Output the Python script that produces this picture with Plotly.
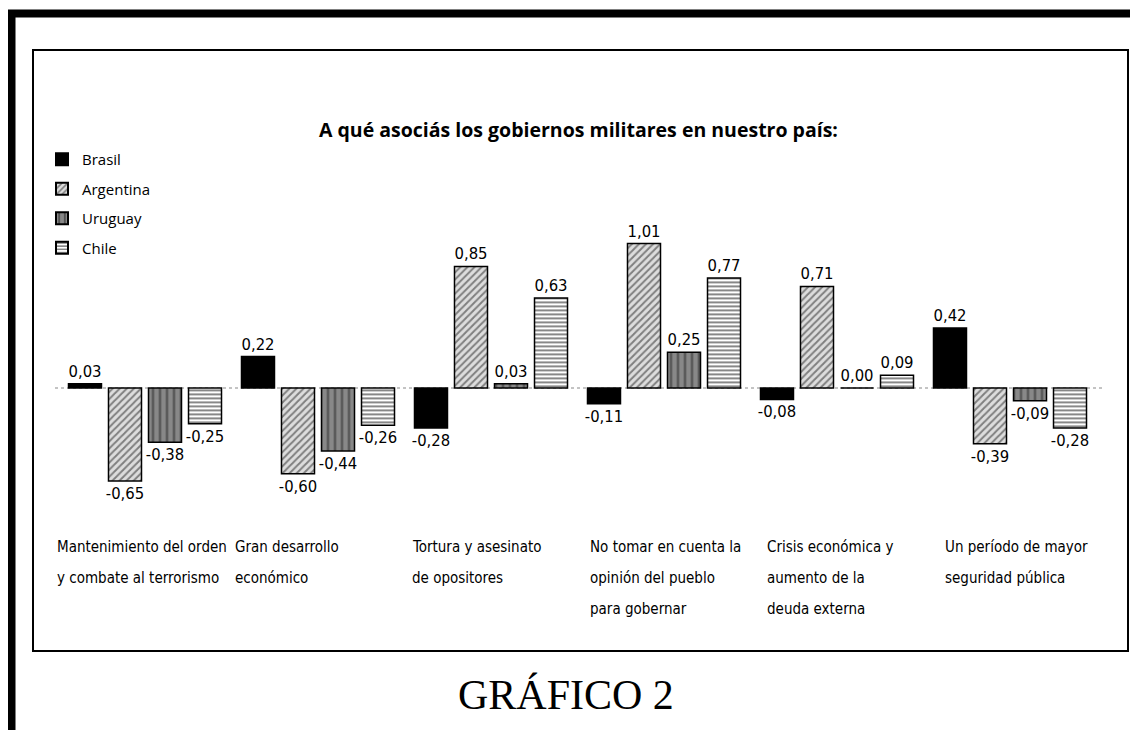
import plotly.graph_objects as go

categories = [
    "Mantenimiento del orden\ny combate al terrorismo",
    "Gran desarrollo\neconómico",
    "Tortura y asesinato\nde opositores",
    "No tomar en cuenta la\nopinión del pueblo\npara gobernar",
    "Crisis económica y\naumento de la\ndeuda externa",
    "Un período de mayor\nseguridad pública",
]
brasil = [0.03, 0.22, -0.28, -0.11, -0.08, 0.42]
argentina = [-0.65, -0.60, 0.85, 1.01, 0.71, -0.39]
uruguay = [-0.38, -0.44, 0.03, 0.25, 0.00, -0.09]
chile = [-0.25, -0.26, 0.63, 0.77, 0.09, -0.28]

series = [
    ("Brasil", brasil, dict(color="black", pattern=dict(shape=""))),
    ("Argentina", argentina, dict(color="white", pattern=dict(shape="/", fgcolor="#222", bgcolor="#dddddd", size=5, solidity=0.4))),
    ("Uruguay", uruguay, dict(color="white", pattern=dict(shape="|", fgcolor="#111", bgcolor="#888888", size=7, solidity=0.3))),
    ("Chile", chile, dict(color="white", pattern=dict(shape="-", fgcolor="#111", bgcolor="white", size=4, solidity=0.5))),
]

# page has an 8px body margin; figure sized to fit the window without scrollbars
OFF = 8
W, H = 1130, 722
def px(x):
    return (x - OFF) / W
def py(y):
    return 1 - (y - OFF) / H

x_idx = list(range(len(categories)))
val_font = dict(family="Liberation Sans Narrow, DejaVu Sans Condensed, sans-serif", size=16.5, color="black")
fig = go.Figure()
for name, vals, mk in series:
    fig.add_trace(go.Bar(
        name=name, x=x_idx, y=vals, legendgroup=name,
        marker=dict(line=dict(color="black", width=1.5), **mk),
        text=[f"{v:.2f}".replace(".", ",") for v in vals],
        textposition="outside", constraintext="none",
        textfont=val_font, cliponaxis=False,
    ))

shapes = [
    dict(type="line", xref="paper", yref="paper", x0=px(11.5), x1=px(11.5), y0=py(10), y1=py(745), line=dict(color="black", width=8)),
    dict(type="line", xref="paper", yref="paper", x0=px(7), x1=px(1145), y0=py(13.5), y1=py(13.5), line=dict(color="black", width=8)),
    dict(type="rect", xref="paper", yref="paper", x0=px(33), x1=px(1128), y0=py(50), y1=py(651), line=dict(color="black", width=2)),
    dict(type="line", xref="paper", yref="y", x0=px(55), x1=px(1105), y0=0, y1=0, line=dict(color="#888", width=1, dash="dot"), layer="below"),
]

annotations = [
    dict(text="<b>A qué asociás los gobiernos militares en nuestro país:</b>", xref="paper", yref="paper",
         x=px(578), y=py(130), xanchor="center", yanchor="middle", showarrow=False,
         font=dict(family="Open Sans, sans-serif", size=19.5, color="black")),
    dict(text="GRÁFICO 2", xref="paper", yref="paper", x=px(566), y=py(695), xanchor="center", yanchor="middle",
         showarrow=False, font=dict(family="Liberation Serif, serif", size=42, color="black")),
]
label_font = dict(family="Liberation Sans Narrow, DejaVu Sans Condensed, sans-serif", size=15, color="black")
for i, cat in enumerate(categories):
    for j, line in enumerate(cat.split("\n")):
        annotations.append(dict(text=line, xref="x", yref="paper", x=i, y=py(547), xanchor="left", yanchor="middle",
                                xshift=-90 + 4.5 * i, yshift=-31 * j, showarrow=False, font=label_font))

fig.update_layout(
    width=W, height=H,
    margin=dict(l=0, r=0, t=0, b=0),
    paper_bgcolor="white", plot_bgcolor="white",
    barmode="group", bargap=0.075, bargroupgap=0.175,
    showlegend=True,
    legend=dict(x=px(42), y=py(143), xanchor="left", yanchor="top", tracegroupgap=7, itemsizing="constant",
                font=dict(family="Open Sans, sans-serif", size=15, color="black"), bgcolor="rgba(0,0,0,0)"),
    xaxis=dict(domain=[px(58.5), px(1096.5)], range=[-0.5, 5.5], visible=False),
    yaxis=dict(domain=[py(531), py(216.4)], range=[-1.0, 1.2], visible=False),
    shapes=shapes, annotations=annotations,
)
fig.write_html("out.html")
